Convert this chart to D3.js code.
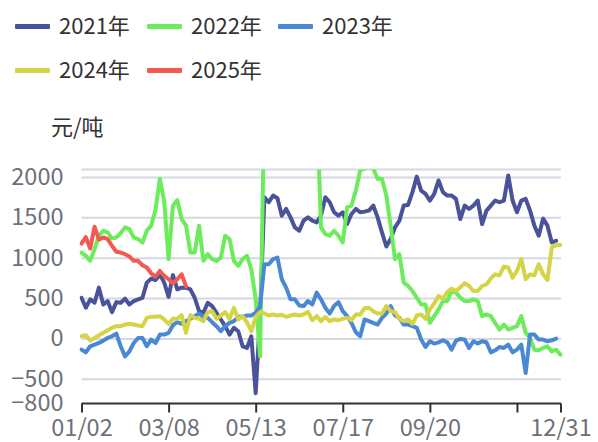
<!DOCTYPE html>
<html><head><meta charset="utf-8">
<script src="https://cdn.jsdelivr.net/npm/d3@7/dist/d3.min.js"></script>
<style>body{margin:0;background:#fff}svg{display:block}</style></head>
<body><svg id="c" width="598" height="442"></svg>
<script>
const seriesNames = ["2021年","2022年","2023年","2024年","2025年"];
const seriesColors = ["#4a5299","#6cec5a","#4a88d4","#d4d446","#f25a50"];
const s2021 = [510,386,490,448,635,427,469,332,456,448,498,427,469,490,510,697,747,730,800,697,
  520,790,614,635,635,614,510,344,324,448,407,324,241,158,54,137,95,-91,-112,33,
  -672,282,1755,1693,1776,1743,1527,1610,1506,1382,1340,1465,1506,1465,1444,1527,1755,1693,1569,1527,
  1569,1423,1548,1610,1569,1577,1590,1652,1506,1320,1145,1237,1382,1465,1652,1660,1818,2010,1838,1797,
  1714,1797,1963,1818,1776,1776,1735,1486,1652,1610,1652,1714,1423,1590,1652,1714,1693,1714,2025,1714,
  1569,1714,1735,1590,1403,1278,1490,1403,1195,1216];
const s2022 = [1070,1029,967,1112,1278,1340,1320,1245,1257,1311,1382,1361,1257,1237,1195,1340,1403,1600,1984,1700,
  988,1650,1720,1486,1403,1070,1070,1403,967,1050,988,967,1008,1278,1237,967,905,988,1029,863,
  490,-216,3000,2700,2600,2800,2600,2500,2700,2600,2800,2600,2500,2700,3000,1382,1299,1278,1340,1278,
  1195,1631,1652,1838,2087,2110,2129,2108,1984,1984,1776,1403,988,1050,697,656,593,510,427,427,
  199,282,365,469,469,593,573,510,469,469,490,469,282,303,282,199,116,178,116,137,
  158,282,75,12,-133,-141,-112,-91,-154,-133,-195];
const s2023 = [-133,-166,-91,-71,-50,-21,12,33,66,-91,-216,-154,-50,12,12,-91,-8,-50,54,54,
  75,170,207,187,220,249,282,315,274,261,207,158,95,158,199,220,274,274,290,290,
  324,400,925,925,988,1008,739,635,490,490,415,407,469,427,573,490,386,315,407,456,
  344,282,199,83,33,241,220,199,178,261,315,407,290,261,178,178,158,137,-8,-100,
  -29,-58,-42,-17,-42,-133,-21,0,-8,-112,-29,-58,-29,-42,-166,-141,-100,-112,-71,-166,
  -133,-71,-423,54,54,-8,-8,-29,-17,4];
const s2024 = [33,46,-21,12,46,75,108,137,158,158,178,187,178,166,158,261,274,274,282,241,
  187,250,249,295,75,295,261,249,220,332,344,249,290,332,249,386,241,282,207,95,
  274,332,315,290,303,290,299,274,290,303,290,303,336,232,282,220,274,220,241,232,
  249,261,232,303,303,380,386,344,315,315,407,344,332,249,220,241,187,290,303,249,
  365,440,531,498,581,623,593,640,689,656,593,593,656,676,751,800,789,896,884,759,
  842,988,739,800,789,925,800,730,1133,1162,1162];
const s2025 = [1180,1260,1120,1390,1230,1257,1237,1154,1079,1070,1050,1021,967,967,913,884,813,772,842,780,
  739,689,739,801,650];
const seriesData = [s2021,s2022,s2023,s2024,s2025];
const yTicks = [2000,1500,1000,500,0,-500,-800];
const yMin = -800, yMax = 2100;
const xTickIndex = [0,20,40,60,80,100,110];
const xTickLabels = ["01/02","03/08","05/13","07/17","09/20","11/24","12/31"];
const xTickShown = [true,true,true,true,true,false,true];
const yUnit = "元/吨";

const FONT = "'Noto Sans CJK SC','Noto Sans',sans-serif";
const svg = d3.select("#c").style("font-family", FONT);
const L = 81.5, R = 560.5, T = 169.4, B = 403.5;
const x = d3.scaleLinear().domain([0,110]).range([L,R]);
const y = d3.scaleLinear().domain([yMin,yMax]).range([B,T]);

// grid lines
const gridVals = yTicks.filter(v => v !== yMin).concat([yMax]);
svg.append("g").selectAll("line").data(gridVals).join("line")
  .attr("x1", L).attr("x2", R+0.5).attr("y1", d=>y(d)).attr("y2", d=>y(d))
  .attr("stroke", "#d5d8e4").attr("stroke-width", 2);

// y labels
const yAxis = svg.append("g").attr("transform", `translate(${L},0)`)
  .call(d3.axisLeft(y).tickValues(yTicks).tickFormat(d3.format("d")).tickSize(0).tickPadding(18));
yAxis.select(".domain").remove();
yAxis.selectAll("text").attr("font-size", 23.5).attr("fill", "#6e7079")
  .attr("font-family", FONT).attr("dy", "0.3em");

// clip
svg.append("clipPath").attr("id","clip").append("rect")
  .attr("x", L-2).attr("y", T).attr("width", R-L+4).attr("height", B-T);

const line = d3.line().x((d,i)=>x(i)).y(d=>y(d));
const g = svg.append("g").attr("clip-path","url(#clip)");
seriesData.forEach((arr,k) => {
  g.append("path").datum(arr).attr("d", line).attr("fill","none")
    .attr("stroke", seriesColors[k]).attr("stroke-width", 4)
    .attr("stroke-linejoin","round").attr("stroke-linecap","round");
});

// x axis
const xAxis = svg.append("g").attr("transform", `translate(0,${B})`)
  .call(d3.axisBottom(x).tickValues(xTickIndex)
    .tickFormat((d,i)=> xTickShown[i] ? xTickLabels[i] : "").tickSizeOuter(0).tickSize(9).tickPadding(7));
xAxis.select(".domain").attr("stroke","#333").attr("stroke-width",2).attr("d", `M${L},0H${R+0.5}`);
xAxis.selectAll("line").attr("stroke","#333").attr("stroke-width",2);
xAxis.selectAll("text").attr("font-size", 23.5).attr("fill","#6e7079").attr("font-family", FONT);

// unit label
svg.append("text").attr("x", 51).attr("y", 135).attr("font-size", 22).attr("fill","#333").text(yUnit);

// legend
const legPos = [[15,26.5],[147,26.5],[278,26.5],[15,70.5],[147,70.5]];
seriesNames.forEach((n,k) => {
  const [lx,ly] = legPos[k];
  svg.append("rect").attr("x", lx).attr("y", ly-2.5).attr("width", 35).attr("height", 5)
    .attr("rx", 1).attr("fill", seriesColors[k]);
  svg.append("text").attr("x", lx+44).attr("y", ly).attr("dy","0.35em")
    .attr("font-size", 22).attr("fill","#333").text(n);
});
</script></body></html>
